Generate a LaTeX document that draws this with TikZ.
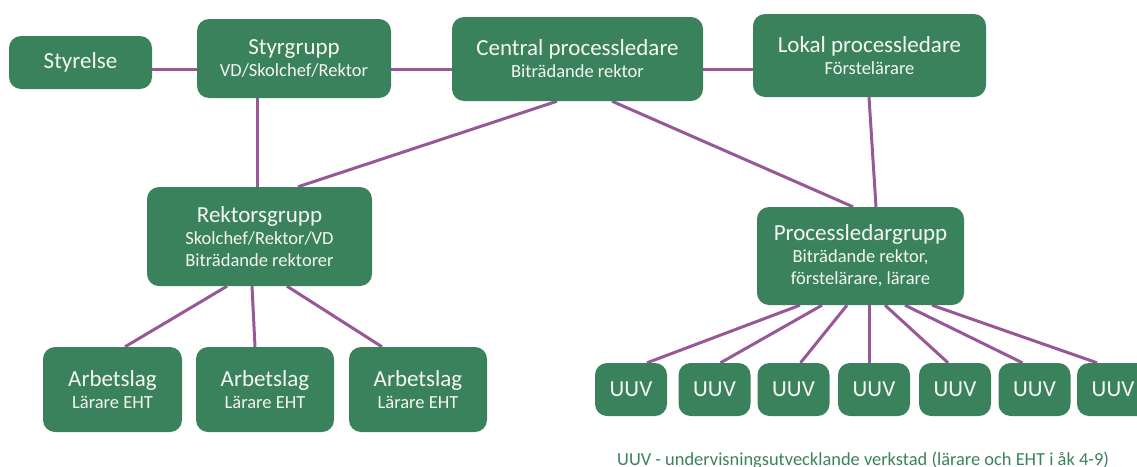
\documentclass[tikz,border=0pt]{standalone}
\usepackage{fontspec}
\setmainfont{Carlito}
\usetikzlibrary{backgrounds}
\definecolor{boxgreen}{RGB}{58,130,92}
\definecolor{linkpurple}{RGB}{152,88,152}
\definecolor{boxtext}{RGB}{246,246,242}
\newcommand{\boxtitle}[1]{{\fontsize{23}{22}\selectfont #1}}
\tikzset{
  orgbox/.style={fill=boxgreen, rounded corners=12pt, text=boxtext, align=center,
    inner sep=0pt, font=\fontsize{18.5}{22}\selectfont},
  link/.style={draw=linkpurple, line width=3pt},
}
\begin{document}
\begin{tikzpicture}[x=1pt, y=-1pt]
\useasboundingbox (0,0) rectangle (1137,466);
\clip (0,0) rectangle (1137,466);

% top row
\node[orgbox, minimum width=143pt, minimum height=53pt] (sty) at (80.5,62.5) {\boxtitle{Styrelse}};
\node[orgbox, minimum width=194pt, minimum height=79pt] (sg) at (294,58.5) {\boxtitle{Styrgrupp}\\VD/Skolchef/Rektor};
\node[orgbox, minimum width=251pt, minimum height=84pt] (cp) at (577.5,59) {\boxtitle{Central processledare}\\Biträdande rektor};
\node[orgbox, minimum width=233pt, minimum height=83pt] (lp) at (869.5,55.5) {\boxtitle{Lokal processledare}\\Förstelärare};

% middle row
\node[orgbox, minimum width=225pt, minimum height=99pt] (rg) at (259.5,236.5) {\boxtitle{Rektorsgrupp}\\Skolchef/Rektor/VD\\Biträdande rektorer};
\node[orgbox, minimum width=207pt, minimum height=98pt] (pg) at (860.5,256) {\boxtitle{Processledargrupp}\\Biträdande rektor,\\förstelärare, lärare};

% work teams
\node[orgbox, minimum width=139pt, minimum height=85pt] (a1) at (112.5,389.5) {\boxtitle{Arbetslag}\\Lärare EHT};
\node[orgbox, minimum width=138pt, minimum height=85pt] (a2) at (265,389.5) {\boxtitle{Arbetslag}\\Lärare EHT};
\node[orgbox, minimum width=138pt, minimum height=85pt] (a3) at (418,389.5) {\boxtitle{Arbetslag}\\Lärare EHT};

% UUV workshops
\foreach \i/\cx in {1/631, 2/714.5, 3/793.5, 4/874, 5/955, 6/1034.5, 7/1113}
  \node[orgbox, minimum width=72pt, minimum height=53pt] (u\i) at (\cx,389.5) {\boxtitle{UUV}};

% footnote, running off the lower edge
\node[anchor=base west, inner sep=0pt, text=boxgreen, font=\fontsize{18.4}{20}\selectfont] (note) at (617,465)
  {UUV - undervisningsutvecklande verkstad (lärare och EHT i åk 4-9)};

\begin{pgfonlayer}{background}
  % horizontal links along the top row
  \draw[link] ([yshift=-6.5pt]sty.east) -- ([yshift=-6.5pt]sty.east -| sg.west);
  \draw[link] ([yshift=-10.5pt]sg.east) -- ([yshift=-10.5pt]sg.east -| cp.west);
  \draw[link] ([yshift=-10pt]cp.east) -- ([yshift=-10pt]cp.east -| lp.west);
  % down to the groups
  \draw[link] ([xshift=-37pt]sg.south) -- ([xshift=-37pt]sg.south |- rg.north);
  \draw[link] ([xshift=-20.5pt]cp.south) -- ([xshift=38.5pt]rg.north);
  \draw[link] ([xshift=34.5pt]cp.south) -- ([xshift=-7.5pt]pg.north);
  \draw[link] ([xshift=-0.5pt]lp.south) -- ([xshift=15.5pt]pg.north);
  % groups to teams
  \draw[link] ([xshift=-32.5pt]rg.south) -- ([xshift=12.5pt]a1.north);
  \draw[link] ([xshift=-7.5pt]rg.south) -- ([xshift=-10pt]a2.north);
  \draw[link] ([xshift=27.5pt]rg.south) -- ([xshift=-36pt]a3.north);
  % process group to workshops
  \draw[link] ([xshift=-60.5pt]pg.south) -- ([xshift=16pt]u1.north);
  \draw[link] ([xshift=-38.5pt]pg.south) -- ([xshift=6pt]u2.north);
  \draw[link] ([xshift=-13.5pt]pg.south) -- ([xshift=7pt]u3.north);
  \draw[link] ([xshift=8.5pt]pg.south) -- ([xshift=-5pt]u4.north);
  \draw[link] ([xshift=24.5pt]pg.south) -- ([xshift=-7pt]u5.north);
  \draw[link] ([xshift=44.5pt]pg.south) -- ([xshift=-12pt]u6.north);
  \draw[link] ([xshift=71.5pt]pg.south) -- ([xshift=-16pt]u7.north);
\end{pgfonlayer}
\end{tikzpicture}
\end{document}
